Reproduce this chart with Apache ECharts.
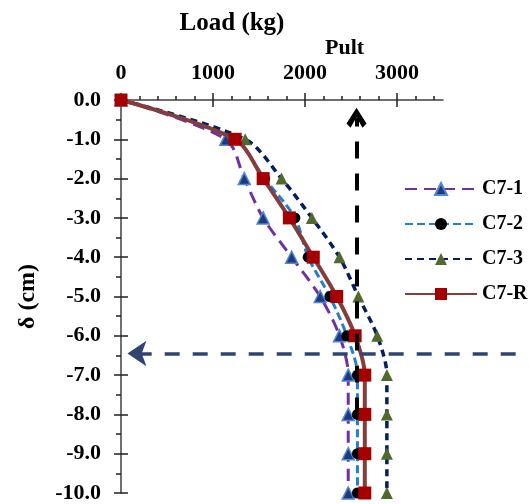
<!DOCTYPE html>
<html><head><meta charset="utf-8">
<script src="https://cdn.jsdelivr.net/npm/echarts@6/dist/echarts.min.js"></script>
<style>html,body{margin:0;padding:0;background:#fff}#c{width:529px;height:504px}</style>
</head><body><div id="c"></div>
<script>
// ---- data ----
const deflection = [0, -1, -2, -3, -4, -5, -6, -7, -8, -9, -10];
const loadC71 = [0, 1140, 1340, 1545, 1855, 2165, 2375, 2470, 2470, 2470, 2470];
const loadC72 = [0, 1230, 1560, 1890, 2035, 2270, 2455, 2570, 2570, 2570, 2570];
const loadC73 = [0, 1350, 1745, 2075, 2375, 2580, 2785, 2890, 2890, 2890, 2890];
const loadC7R = [0, 1240, 1545, 1830, 2090, 2345, 2545, 2650, 2650, 2650, 2650];
const seriesNames = ['C7-1', 'C7-2', 'C7-3', 'C7-R'];
const xMajorTicks = [0, 1000, 2000, 3000];
const xMinorTicks = [200, 400, 600, 800, 1200, 1400, 1600, 1800, 2200, 2400, 2600, 2800, 3200, 3400];
const yMajorTicks = [0, -1, -2, -3, -4, -5, -6, -7, -8, -9, -10];
const yMinorTicks = [-0.5, -1.5, -2.5, -3.5, -4.5, -5.5, -6.5, -7.5, -8.5, -9.5];
const pultArrow = [[2560, -8], [2560, -0.45]];
const deflArrow = [[4290, -6.45], [70, -6.45]];

const FONT = "'Liberation Serif', 'Times New Roman', serif";
const pairs = (xs) => xs.map((x, i) => [x, deflection[i]]);
const axisLineStyle = { color: '#404040', width: 1.5 };
const tickStyle = { color: '#202020', width: 1.5 };

function xAxisDef(extra) {
  return Object.assign({
    type: 'value', gridIndex: 0, position: 'top', min: 0, max: 3500,
    axisLine: { show: false }, axisLabel: { show: false }, splitLine: { show: false }
  }, extra);
}
function yAxisDef(extra) {
  return Object.assign({
    type: 'value', gridIndex: 0, position: 'left', min: -10, max: 0,
    axisLine: { show: false }, axisLabel: { show: false }, splitLine: { show: false }
  }, extra);
}

const chart = echarts.init(document.getElementById('c'), null, { renderer: 'canvas' });
chart.setOption({
  animation: false,
  backgroundColor: '#ffffff',
  textStyle: { fontFamily: FONT },
  title: [{ text: 'Pult', left: 325, top: 37, padding: 0,
    textStyle: { fontFamily: FONT, fontWeight: 'bold', fontSize: 22, color: '#000' } }],
  grid: [{ left: 121, top: 100, width: 322, height: 393 }],
  xAxis: [
    xAxisDef({
      name: 'Load (kg)', nameLocation: 'middle', nameGap: 64,
      nameTextStyle: { fontFamily: FONT, fontWeight: 'bold', fontSize: 25, color: '#000', padding: [0, 100, 0, 0] },
      axisLine: { show: true, lineStyle: axisLineStyle },
      axisTick: { show: true, customValues: xMajorTicks, length: 7, lineStyle: tickStyle },
      axisLabel: { show: true, customValues: xMajorTicks, margin: 16, fontFamily: FONT, fontWeight: 'bold', fontSize: 22, color: '#000',
        formatter: (v) => String(v) }
    }),
    xAxisDef({ axisTick: { show: true, inside: true, customValues: xMajorTicks, length: 7, lineStyle: tickStyle } }),
    xAxisDef({ axisTick: { show: true, customValues: xMinorTicks, length: 4, lineStyle: tickStyle } })
  ],
  yAxis: [
    yAxisDef({
      name: 'δ (cm)', nameLocation: 'middle', nameGap: 81,
      nameTextStyle: { fontFamily: FONT, fontWeight: 'bold', fontSize: 24, color: '#000' },
      axisLine: { show: true, lineStyle: axisLineStyle },
      axisTick: { show: true, customValues: yMajorTicks, length: 7, lineStyle: tickStyle },
      axisLabel: { show: true, customValues: yMajorTicks, margin: 20, fontFamily: FONT, fontWeight: 'bold', fontSize: 22, color: '#000',
        formatter: (v) => Number(v).toFixed(1) }
    }),
    yAxisDef({ axisTick: { show: true, inside: true, customValues: yMajorTicks, length: 7, lineStyle: tickStyle } }),
    yAxisDef({ axisTick: { show: true, customValues: yMinorTicks, length: 5, lineStyle: tickStyle } })
  ],
  legend: {
    orient: 'vertical', left: 399, top: 173.5, itemWidth: 72, itemHeight: 15, itemGap: 14,
    data: seriesNames,
    textStyle: { fontFamily: FONT, fontWeight: 'bold', fontSize: 20, lineHeight: 21, color: '#000' }
  },
  series: [
    { name: 'C7-1', type: 'line', data: pairs(loadC71), smooth: 0.3,
      symbol: 'triangle', symbolSize: 12,
      lineStyle: { color: '#7030A0', width: 3, type: [12, 7] },
      itemStyle: { color: '#1F3A7A', borderColor: '#4F86D8', borderWidth: 1.5 }, z: 2 },
    { name: 'C7-2', type: 'line', data: pairs(loadC72), smooth: 0.3,
      symbol: 'circle', symbolSize: 11,
      lineStyle: { color: '#1F7FD0', width: 3, type: [8, 4] },
      itemStyle: { color: '#000000' }, z: 3 },
    { name: 'C7-3', type: 'line', data: pairs(loadC73), smooth: 0.3,
      symbol: 'triangle', symbolSize: 12,
      lineStyle: { color: '#002060', width: 3.5, type: [7, 5] },
      itemStyle: { color: '#4F6A2C' }, z: 4 },
    { name: 'C7-R', type: 'line', data: pairs(loadC7R), smooth: 0.3,
      symbol: 'rect', symbolSize: 13,
      lineStyle: { color: '#843C3C', width: 4 },
      itemStyle: { color: '#A50000' }, z: 5 },
    { type: 'lines', coordinateSystem: 'cartesian2d', xAxisIndex: 0, yAxisIndex: 0, z: 8, silent: true, clip: false,
      symbol: ['none', 'path://M0,15 L10,0 L20,15 L16,19 L10,9 L4,19 Z'], symbolSize: 20,
      lineStyle: { color: '#000000', width: 4, type: [17, 15], opacity: 1, curveness: 0 },
      data: [{ coords: pultArrow }] },
    { type: 'lines', coordinateSystem: 'cartesian2d', xAxisIndex: 0, yAxisIndex: 0, z: 8, silent: true, clip: false,
      symbol: ['none', 'arrow'], symbolSize: 19,
      lineStyle: { color: '#2F4570', width: 3.5, type: [15, 13], opacity: 1, curveness: 0 },
      data: [{ coords: deflArrow }] }
  ]
});
</script></body></html>
